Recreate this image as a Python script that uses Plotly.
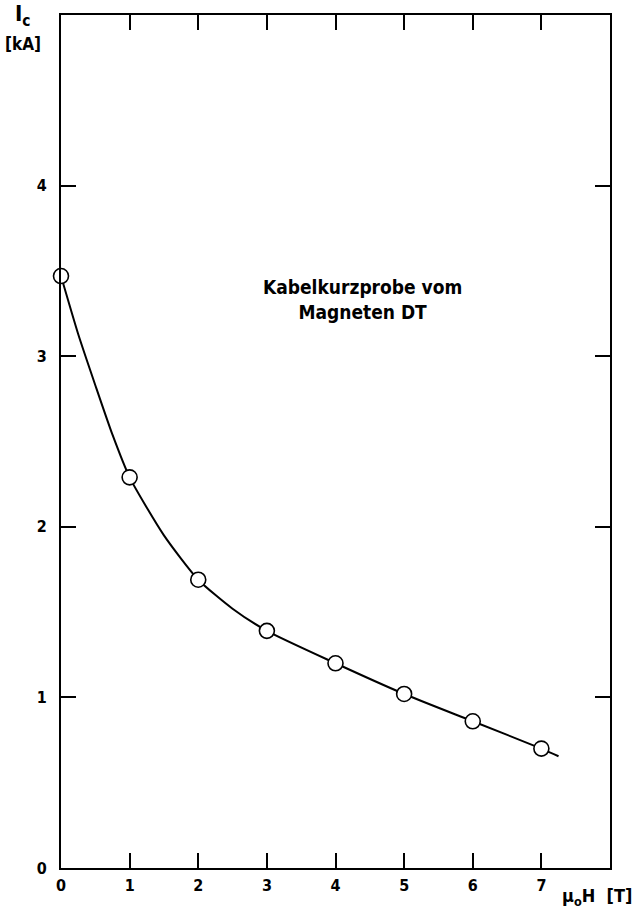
import plotly.graph_objects as go

# Data
field_T = [0, 1, 2, 3, 4, 5, 6, 7]
ic_kA = [3.47, 2.29, 1.69, 1.39, 1.20, 1.02, 0.86, 0.70]
# smooth fitted curve (drawn through points, extended slightly past last point)
curve_x = [0, 0.25, 0.5, 0.75, 1, 1.5, 2, 2.5, 3, 4, 5, 6, 7, 7.25]
curve_y = [3.47, 3.13, 2.83, 2.54, 2.29, 1.95, 1.69, 1.52, 1.39, 1.20, 1.02, 0.86, 0.70, 0.655]

x_ticks = [0, 1, 2, 3, 4, 5, 6, 7]
y_ticks = [0, 1, 2, 3, 4]

FONT = "DejaVu Sans Condensed"

fig = go.Figure()
fig.add_trace(go.Scatter(x=curve_x, y=curve_y, mode="lines",
                         line=dict(color="black", width=2, shape="spline", smoothing=0.6),
                         hoverinfo="skip", showlegend=False))
fig.add_trace(go.Scatter(x=field_T, y=ic_kA, mode="markers",
                         marker=dict(symbol="circle", size=15, color="white",
                                     line=dict(color="black", width=1.6)),
                         cliponaxis=False, showlegend=False))

axis_common = dict(showgrid=False, zeroline=False, showline=True, linecolor="black",
                   linewidth=2, ticks="inside", ticklen=15, tickwidth=1.8,
                   tickcolor="black", mirror="allticks",
                   tickfont=dict(family=FONT, size=16, color="black", weight="bold"))

fig.update_xaxes(range=[0, 8], tickvals=x_ticks, ticktext=[str(v) for v in x_ticks],
                 ticklabelstandoff=2, **axis_common)
fig.update_yaxes(range=[0, 5], tickvals=y_ticks, ticktext=[str(v) for v in y_ticks],
                 ticklabelstandoff=9, **axis_common)

fig.update_layout(
    width=639, height=912,
    margin=dict(l=61, r=29, t=15, b=44),
    paper_bgcolor="white", plot_bgcolor="white",
    font=dict(family=FONT, color="black"),
)
fig.add_annotation(text="<b>I<sub>c</sub></b>", xref="paper", yref="paper", x=-0.07, y=1.0,
                   xanchor="center", yanchor="middle", showarrow=False, font=dict(size=22))
fig.add_annotation(text="<b>[kA]</b>", xref="paper", yref="paper", x=-0.07, y=0.966,
                   xanchor="center", yanchor="middle", showarrow=False, font=dict(size=17))
fig.add_annotation(text="<b>Kabelkurzprobe vom<br>Magneten DT</b>", xref="x", yref="y",
                   x=4.4, y=3.33, xanchor="center", yanchor="middle", showarrow=False,
                   align="center", font=dict(size=19))
fig.add_annotation(text="<b>μ<sub>o</sub>H  [T]</b>", xref="paper", yref="paper", x=1.043,
                   y=-0.034, xanchor="right", yanchor="middle", showarrow=False,
                   font=dict(size=18))

fig.write_html("out.html")
